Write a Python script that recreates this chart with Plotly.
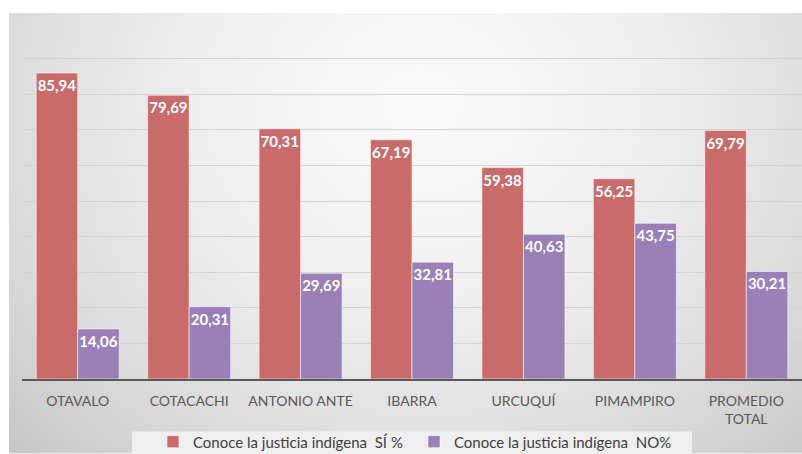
import base64
import struct
import zlib

import plotly.graph_objects as go

# Data
categories = ["OTAVALO", "COTACACHI", "ANTONIO ANTE", "IBARRA", "URCUQUÍ", "PIMAMPIRO", "PROMEDIO<br>TOTAL"]
si_values = [85.94, 79.69, 70.31, 67.19, 59.38, 56.25, 69.79]
no_values = [14.06, 20.31, 29.69, 32.81, 40.63, 43.75, 30.21]
series_names = ["Conoce la justicia indígena  SÍ %", "Conoce la justicia indígena  NO%"]

W, H = 802, 454
M_L, M_R, M_T, M_B = 22, 0, 23, 74.5
plot_w = W - M_L - M_R
plot_h = H - M_T - M_B


def px_x(px):
    return (px - M_L) / plot_w


def px_y(py):
    return (H - M_B - py) / plot_h


def gradient_png(w, h):
    """Radial grey gradient used as the chart-area fill."""
    rows = bytearray()
    cx, cy = 0.52, 0.2
    for j in range(h):
        rows.append(0)
        for i in range(w):
            dx = (i / (w - 1) - cx) / 0.62
            dy = (j / (h - 1) - cy) / 1.0
            d = min((dx * dx + dy * dy) ** 0.5, 1.3)
            v = int(round(248 - 38 * d ** 1.8))
            rows += bytes((v, v, v))
    raw = zlib.compress(bytes(rows), 9)

    def chunk(tag, data):
        c = struct.pack(">I", len(data)) + tag + data
        return c + struct.pack(">I", zlib.crc32(tag + data) & 0xFFFFFFFF)

    png = b"\x89PNG\r\n\x1a\n"
    png += chunk(b"IHDR", struct.pack(">IIBBBBB", w, h, 8, 2, 0, 0, 0))
    png += chunk(b"IDAT", raw)
    png += chunk(b"IEND", b"")
    return "data:image/png;base64," + base64.b64encode(png).decode()


def fmt(v):
    return f"{v:.2f}".replace(".", ",")


label_font = dict(family="Lato, 'Open Sans', sans-serif", size=15, color="white", weight="bold")

fig = go.Figure()
fig.add_trace(go.Bar(
    x=categories, y=si_values, name=series_names[0],
    marker=dict(color="#c96b6b", line=dict(color="rgba(255,255,255,0.55)", width=1)),
    text=[fmt(v) for v in si_values], textposition="inside", insidetextanchor="end",
    textangle=0, constraintext="none", insidetextfont=label_font,
    cliponaxis=False,
))
fig.add_trace(go.Bar(
    x=categories, y=no_values, name=series_names[1],
    marker=dict(color="#9a80b7", line=dict(color="rgba(255,255,255,0.55)", width=1)),
    text=[fmt(v) for v in no_values], textposition="inside", insidetextanchor="end",
    textangle=0, constraintext="none", insidetextfont=label_font,
    cliponaxis=False,
))

fig.update_layout(
    width=W, height=H,
    margin=dict(l=M_L, r=M_R, t=M_T, b=M_B, autoexpand=False),
    paper_bgcolor="white",
    plot_bgcolor="rgba(0,0,0,0)",
    barmode="group", bargap=0.255, bargroupgap=0,
    font=dict(family="Lato, 'Open Sans', sans-serif", color="#595959", size=14),
    showlegend=True,
    legend=dict(
        orientation="h", x=px_x(414), xanchor="center", y=px_y(426), yanchor="top",
        bgcolor="rgba(0,0,0,0)", entrywidth=216, entrywidthmode="pixels",
        font=dict(size=15, color="#404040"), itemwidth=30, traceorder="normal",
    ),
    images=[dict(
        source=gradient_png(160, 90), xref="paper", yref="paper",
        x=px_x(9), y=px_y(13), sizex=(W - 9) / plot_w, sizey=(H - 13) / plot_h,
        xanchor="left", yanchor="top", sizing="stretch", layer="below",
    )],
    shapes=[dict(
        type="rect", xref="paper", yref="paper",
        x0=px_x(132), x1=px_x(692), y0=px_y(432), y1=px_y(456),
        fillcolor="#efefef", line=dict(width=0), layer="below",
    )],
)
fig.update_xaxes(
    showgrid=False, showline=True, linecolor="#5a5a5a", linewidth=1.5,
    ticks="outside", ticklen=8, tickcolor="rgba(0,0,0,0)",
    tickfont=dict(size=14, color="#595959"),
)
fig.update_yaxes(
    range=[0, 100], dtick=10, showgrid=True, gridcolor="#d2d2d2", gridwidth=1,
    showticklabels=False, zeroline=False, showline=False,
)

fig.write_html("out.html")
